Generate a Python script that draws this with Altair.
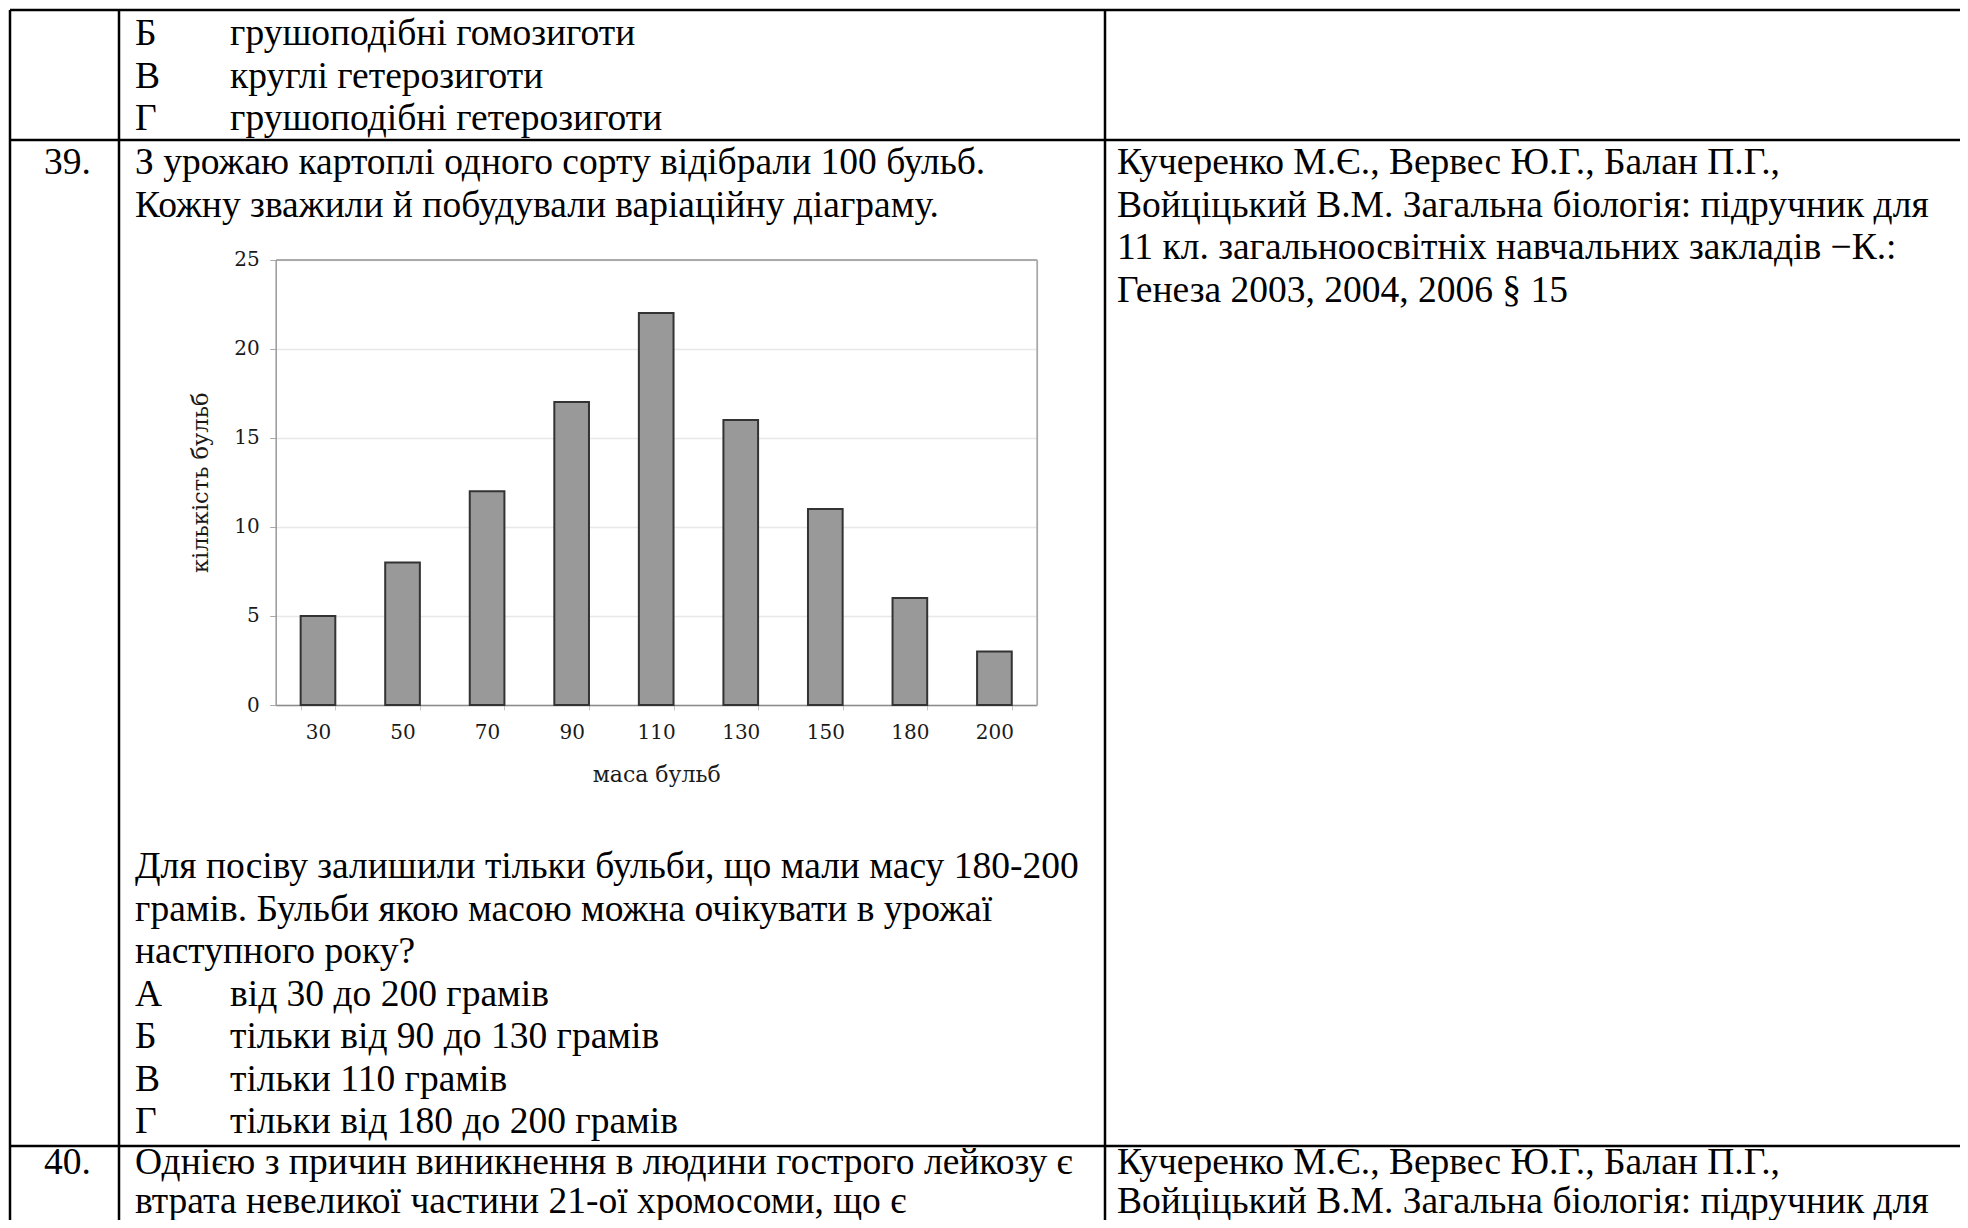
import altair as alt
import pandas as pd

# ---------------- data ----------------
mass_labels = ["30", "50", "70", "90", "110", "130", "150", "180", "200"]
tuber_counts = [5, 8, 12, 17, 22, 16, 11, 6, 3]
y_tick_values = [0, 5, 10, 15, 20, 25]

row1_letters = ["Б", "В", "Г"]
row1_answers = ["грушоподібні гомозиготи", "круглі гетерозиготи", "грушоподібні гетерозиготи"]
q39_number = "39."
q39_intro = ["З урожаю картоплі одного сорту відібрали 100 бульб.",
             "Кожну зважили й побудували варіаційну діаграму."]
q39_after = ["Для посіву залишили тільки бульби, що мали масу 180-200",
             "грамів. Бульби якою масою можна очікувати в урожаї",
             "наступного року?"]
q39_letters = ["А", "Б", "В", "Г"]
q39_answers = ["від 30 до 200 грамів", "тільки від 90 до 130 грамів",
               "тільки 110 грамів", "тільки від 180 до 200 грамів"]
source_lines = ["Кучеренко М.Є., Вервес Ю.Г., Балан П.Г.,",
                "Войціцький В.М. Загальна біологія: підручник для",
                "11 кл. загальноосвітніх навчальних закладів −К.:",
                "Генеза 2003, 2004, 2006 § 15"]
q40_number = "40."
q40_lines = ["Однією з причин виникнення в людини гострого лейкозу є",
             "втрата невеликої частини 21-ої хромосоми, що є"]
q40_source = source_lines[:2]

# ---------------- layout (canvas pixels) ----------------
W, H = 1952, 1212
M = 8  # page margin
LINE = 42.5
X_NUM, X_TEXT, X_ANS, X_SRC = 44 - M, 135 - M, 230 - M, 1117 - M

PL, PR, PT, PB = 275.7 - M, 1036.7 - M, 259.5 - M, 705 - M

rows = []
def add(x, y, t):
    rows.append({"x": x, "y": y - M, "t": t})

for i, (l, a) in enumerate(zip(row1_letters, row1_answers)):
    add(X_TEXT, 45 + i * LINE, l)
    add(X_ANS, 45 + i * LINE, a)
add(X_NUM, 174, q39_number)
for i, t in enumerate(q39_intro):
    add(X_TEXT, 174 + i * LINE, t)
for i, t in enumerate(source_lines):
    add(X_SRC, 174 + i * LINE, t)
for i, t in enumerate(q39_after):
    add(X_TEXT, 878 + i * LINE, t)
for i, (l, a) in enumerate(zip(q39_letters, q39_answers)):
    y = 878 + (3 + i) * LINE
    add(X_TEXT, y, l)
    add(X_ANS, y, a)
add(X_NUM, 1174, q40_number)
for i, t in enumerate(q40_lines):
    add(X_TEXT, 1174 + i * 39, t)
for i, t in enumerate(q40_source):
    add(X_SRC, 1174 + i * 39, t)
doc_df = pd.DataFrame(rows)

rules = []
for y in [10, 140, 1146]:
    rules.append({"x": 10 - M, "x2": W, "y": y - M, "y2": y - M})
for x in [10, 119, 1105]:
    rules.append({"x": x - M, "x2": x - M, "y": 10 - M, "y2": H})
rule_df = pd.DataFrame(rules)

doc_text = alt.Chart(doc_df).mark_text(
    align="left", baseline="alphabetic", font="Liberation Serif", fontSize=37.5, color="black"
).encode(
    x=alt.X("x:Q", scale=None, axis=None),
    y=alt.Y("y:Q", scale=None, axis=None),
    text="t:N",
)

table_lines = alt.Chart(rule_df).mark_rule(color="black", strokeWidth=2.5).encode(
    x=alt.X("x:Q", scale=None, axis=None),
    x2="x2:Q",
    y=alt.Y("y:Q", scale=None, axis=None),
    y2="y2:Q",
)

# ---------------- bar chart ----------------
bar_df = pd.DataFrame({"mass": mass_labels, "count": tuber_counts})

x_scale = alt.Scale(domain=mass_labels, range=[PL, PR], paddingInner=0.59, paddingOuter=0.295)
y_scale = alt.Scale(domain=[0, 25], range=[PB, PT], nice=False)

FONT = "DejaVu Serif"
INK = "#1a1a1a"

bars = alt.Chart(bar_df).mark_bar(
    fill="#999999", stroke="#333333", strokeWidth=2
).encode(
    x=alt.X("mass:N", sort=None, scale=x_scale, axis=alt.Axis(
        orient="bottom", offset=-(H - PB), tickBand="extent", tickSize=5,
        tickColor="#c8c8c8", domainColor="#8c8c8c", domainWidth=1.5,
        labelFont=FONT, labelFontSize=20, labelColor=INK, labelPadding=12.5,
        labelAngle=0, grid=False, title="маса бульб", titleFont=FONT,
        titleFontSize=22, titleFontWeight="normal", titleColor=INK, titlePadding=21.5,
    )),
    y=alt.Y("count:Q", scale=y_scale, axis=alt.Axis(
        orient="left", offset=-PL, values=y_tick_values, tickSize=6,
        tickColor="#aaaaaa", domainColor="#999999", domainWidth=1.5,
        labelFont=FONT, labelFontSize=20, labelColor=INK, labelPadding=10.5,
        grid=True, gridColor="#e8e8e8", gridWidth=1.5,
        title="кількість бульб", titleFont=FONT, titleFontSize=22.5,
        titleFontWeight="normal", titleColor=INK, titlePadding=21,
    )),
)

frame = alt.Chart(bar_df).mark_bar(opacity=0).encode(
    x=alt.X("mass:N", sort=None, scale=x_scale, axis=alt.Axis(
        orient="top", offset=-PT, labels=False, ticks=False, grid=False,
        title=None, domainColor="#aaaaaa", domainWidth=1.8,
    )),
    y=alt.Y("count:Q", scale=y_scale, axis=alt.Axis(
        orient="right", offset=-(W - PR), labels=False, ticks=False, grid=False,
        title=None, domainColor="#aaaaaa", domainWidth=1.8,
    )),
)

plot = alt.layer(bars, frame).resolve_axis(x="independent", y="independent")

chart = alt.layer(table_lines, doc_text, plot).properties(
    width=W, height=H, padding=0, autosize=alt.AutoSizeParams(type="none"),
    background="white",
).configure_view(stroke=None)

chart.save("out.html", embed_options={"renderer": "svg", "actions": False})
